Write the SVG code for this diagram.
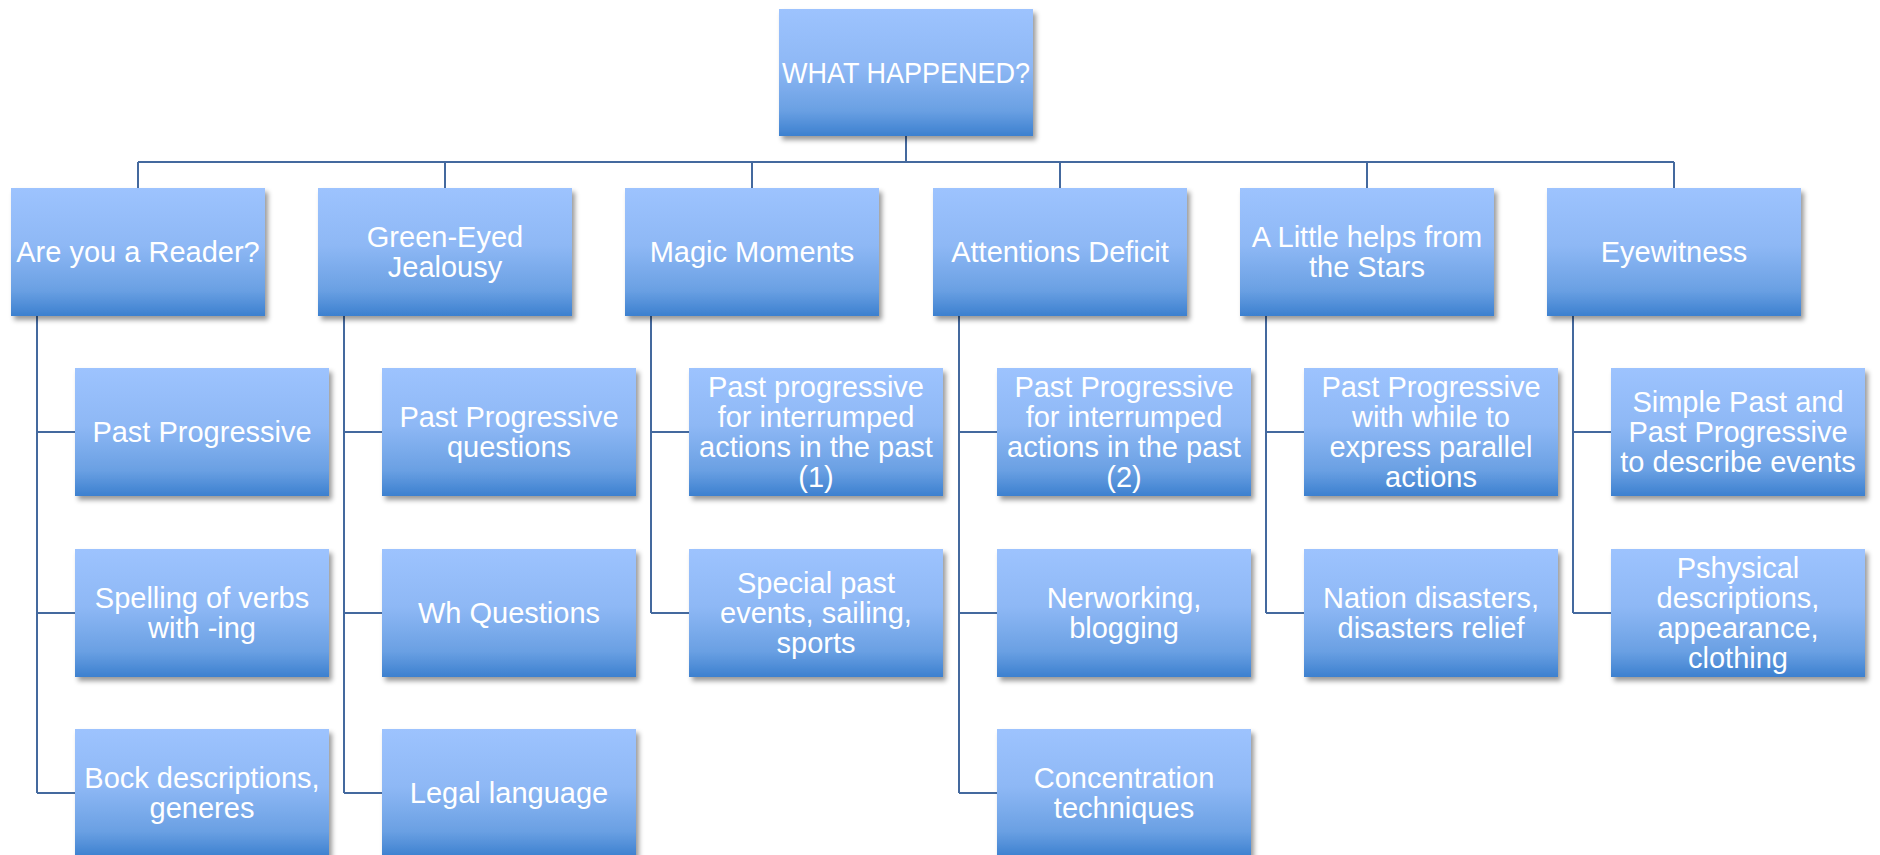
<svg xmlns="http://www.w3.org/2000/svg" width="1880" height="855" viewBox="0 0 1880 855">
<defs>
<linearGradient id="g" x1="0" y1="0" x2="0" y2="1">
<stop offset="0" stop-color="#9DC3FE"/>
<stop offset="0.45" stop-color="#8EB8F5"/>
<stop offset="0.8" stop-color="#6AA0E3"/>
<stop offset="1" stop-color="#3C80CF"/>
</linearGradient>
<filter id="sh" x="-10%" y="-10%" width="125%" height="135%">
<feDropShadow dx="3" dy="4" stdDeviation="2.5" flood-color="#000" flood-opacity="0.4"/>
</filter>
</defs>
<style>
.b{fill:url(#g);filter:url(#sh)}
.t{font-family:"Liberation Sans",Arial,sans-serif;font-size:29px;fill:#fff;text-anchor:middle}
.c{fill:none;stroke:#44699E;stroke-width:2}
</style>
<rect width="1880" height="855" fill="#fff"/>
<g id="connectors">
<path class="c" d="M906 136V162M138 162H1674M138 162V188M445 162V188M752 162V188M1060 162V188M1367 162V188M1674 162V188"/>
<path class="c" d="M37 316V793M37 432H75M37 613H75M37 793H75"/>
<path class="c" d="M344 316V793M344 432H382M344 613H382M344 793H382"/>
<path class="c" d="M651 316V613M651 432H689M651 613H689"/>
<path class="c" d="M959 316V793M959 432H997M959 613H997M959 793H997"/>
<path class="c" d="M1266 316V613M1266 432H1304M1266 613H1304"/>
<path class="c" d="M1573 316V613M1573 432H1611M1573 613H1611"/>
</g>
<g id="root"><rect class="b" x="779" y="9" width="254" height="127"/><text class="t" x="906" y="83" textLength="248" lengthAdjust="spacingAndGlyphs">WHAT HAPPENED?</text></g>
<g id="n1"><rect class="b" x="11" y="188" width="254" height="128"/><text class="t" x="138" y="262.4">Are you a Reader?</text></g>
<g id="n2"><rect class="b" x="318" y="188" width="254" height="128"/><text class="t" x="445" y="247.4">Green-Eyed</text><text class="t" x="445" y="277.4">Jealousy</text></g>
<g id="n3"><rect class="b" x="625" y="188" width="254" height="128"/><text class="t" x="752" y="262.4">Magic Moments</text></g>
<g id="n4"><rect class="b" x="933" y="188" width="254" height="128"/><text class="t" x="1060" y="262.4">Attentions Deficit</text></g>
<g id="n5"><rect class="b" x="1240" y="188" width="254" height="128"/><text class="t" x="1367" y="247.4">A Little helps from</text><text class="t" x="1367" y="277.4">the Stars</text></g>
<g id="n6"><rect class="b" x="1547" y="188" width="254" height="128"/><text class="t" x="1674" y="262.4">Eyewitness</text></g>
<g id="n1a"><rect class="b" x="75" y="368" width="254" height="128"/><text class="t" x="202" y="442.4">Past Progressive</text></g>
<g id="n1b"><rect class="b" x="75" y="549" width="254" height="128"/><text class="t" x="202" y="608.4">Spelling of verbs</text><text class="t" x="202" y="638.4">with -ing</text></g>
<g id="n1c"><rect class="b" x="75" y="729" width="254" height="128"/><text class="t" x="202" y="788.4">Bock descriptions,</text><text class="t" x="202" y="818.4">generes</text></g>
<g id="n2a"><rect class="b" x="382" y="368" width="254" height="128"/><text class="t" x="509" y="427.4">Past Progressive</text><text class="t" x="509" y="457.4">questions</text></g>
<g id="n2b"><rect class="b" x="382" y="549" width="254" height="128"/><text class="t" x="509" y="623.4">Wh Questions</text></g>
<g id="n2c"><rect class="b" x="382" y="729" width="254" height="128"/><text class="t" x="509" y="803.4">Legal language</text></g>
<g id="n3a"><rect class="b" x="689" y="368" width="254" height="128"/><text class="t" x="816" y="397.4">Past progressive</text><text class="t" x="816" y="427.4">for interrumped</text><text class="t" x="816" y="457.4">actions in the past</text><text class="t" x="816" y="487.4">(1)</text></g>
<g id="n3b"><rect class="b" x="689" y="549" width="254" height="128"/><text class="t" x="816" y="593.4">Special past</text><text class="t" x="816" y="623.4">events, sailing,</text><text class="t" x="816" y="653.4">sports</text></g>
<g id="n4a"><rect class="b" x="997" y="368" width="254" height="128"/><text class="t" x="1124" y="397.4">Past Progressive</text><text class="t" x="1124" y="427.4">for interrumped</text><text class="t" x="1124" y="457.4">actions in the past</text><text class="t" x="1124" y="487.4">(2)</text></g>
<g id="n4b"><rect class="b" x="997" y="549" width="254" height="128"/><text class="t" x="1124" y="608.4">Nerworking,</text><text class="t" x="1124" y="638.4">blogging</text></g>
<g id="n4c"><rect class="b" x="997" y="729" width="254" height="128"/><text class="t" x="1124" y="788.4">Concentration</text><text class="t" x="1124" y="818.4">techniques</text></g>
<g id="n5a"><rect class="b" x="1304" y="368" width="254" height="128"/><text class="t" x="1431" y="397.4">Past Progressive</text><text class="t" x="1431" y="427.4">with while to</text><text class="t" x="1431" y="457.4">express parallel</text><text class="t" x="1431" y="487.4">actions</text></g>
<g id="n5b"><rect class="b" x="1304" y="549" width="254" height="128"/><text class="t" x="1431" y="608.4">Nation disasters,</text><text class="t" x="1431" y="638.4">disasters relief</text></g>
<g id="n6a"><rect class="b" x="1611" y="368" width="254" height="128"/><text class="t" x="1738" y="412.4">Simple Past and</text><text class="t" x="1738" y="442.4">Past Progressive</text><text class="t" x="1738" y="472.4">to describe events</text></g>
<g id="n6b"><rect class="b" x="1611" y="549" width="254" height="128"/><text class="t" x="1738" y="578.4">Pshysical</text><text class="t" x="1738" y="608.4">descriptions,</text><text class="t" x="1738" y="638.4">appearance,</text><text class="t" x="1738" y="668.4">clothing</text></g>
</svg>
